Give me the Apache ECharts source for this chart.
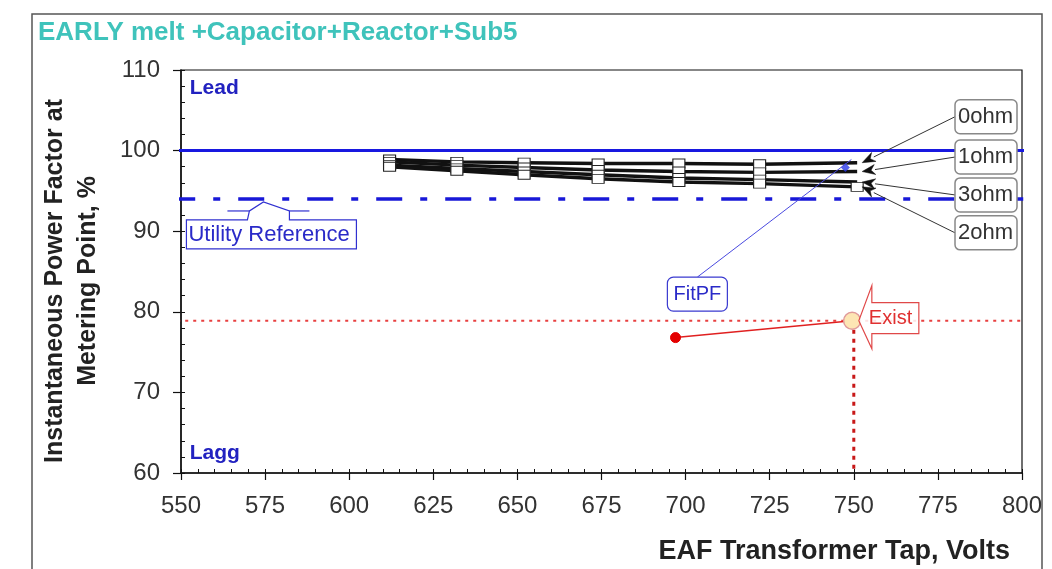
<!DOCTYPE html>
<html><head><meta charset="utf-8">
<script src="https://cdn.jsdelivr.net/npm/echarts@6/dist/echarts.min.js"></script>
<style>html,body{margin:0;padding:0;background:#fff}#c{width:1052px;height:569px}</style>
</head><body><div id="c"></div>
<script>
// ---- data ----
const seriesNames = ['0ohm', '1ohm', '3ohm', '2ohm'];
const xVolts = [612, 632, 652, 674, 698, 722, 751];
const pf0ohm = [98.9, 98.6, 98.5, 98.4, 98.4, 98.3, 98.5];
const pf1ohm = [98.6, 98.2, 97.9, 97.6, 97.4, 97.3, 97.4];
const pf3ohm = [98.2, 97.8, 97.4, 97.0, 96.6, 96.4, 96.1];
const pf2ohm = [98.0, 97.5, 97.0, 96.5, 96.1, 95.9, 95.5];
const xTickLabels = [550, 575, 600, 625, 650, 675, 700, 725, 750, 775, 800];
const yTickLabels = [60, 70, 80, 90, 100, 110];
const leadPF = 100;
const utilityPF = 94;
const existPF = 78.9;
const existTap = 750;
const refSpan = [546.5, 804.5];
const fitPoint = [747.5, 97.9];
const measuredPoint = [697, 76.8];
const existPoint = [749.5, 78.9];

const FONT = "'Liberation Sans', Arial, sans-serif";
const chart = echarts.init(document.getElementById('c'), null, {renderer: 'canvas'});

const ohmData = [pf0ohm, pf1ohm, pf3ohm, pf2ohm];
const ohmSeries = seriesNames.map((n, k) => ({
  name: n, type: 'line', xAxisIndex: 0, yAxisIndex: 0, z: 5,
  data: xVolts.map((x, i) => {
    const last = i === xVolts.length - 1;
    const item = {value: [x, ohmData[k][i]]};
    if (last && n !== '2ohm') item.symbol = 'none';
    return item;
  }),
  symbol: 'rect', symbolSize: [12, 9],
  itemStyle: {color: '#fff', borderColor: '#222', borderWidth: 1},
  lineStyle: {color: '#111', width: 3.4},
  showSymbol: true
}));

const xMin = xTickLabels[0], xMax = xTickLabels[xTickLabels.length - 1];
const yMin = yTickLabels[0], yMax = yTickLabels[yTickLabels.length - 1];

chart.setOption({
  animation: false,
  backgroundColor: '#fff',
  grid: {left: 181, right: 30, top: 70, bottom: 96, show: true, borderColor: '#111', borderWidth: 1.2, backgroundColor: 'transparent'},
  xAxis: [{
    type: 'value', min: xMin, max: xMax, interval: 25, position: 'bottom',
    axisLine: {show: true, lineStyle: {color: '#111', width: 1.5}},
    axisTick: {show: true, inside: false, length: 7, lineStyle: {color: '#111', width: 1.2}},
    minorTick: {show: false},
    axisLabel: {show: true, fontSize: 24, color: '#333', fontFamily: FONT, margin: 21,
      formatter: v => xTickLabels.includes(v) ? String(v) : ''},
    splitLine: {show: false}
  }, {
    type: 'value', min: xMin, max: xMax, interval: 25, position: 'top', offset: -403,
    axisLine: {show: false},
    axisTick: {show: true, inside: false, length: 4, lineStyle: {color: '#111', width: 1}},
    minorTick: {show: true, splitNumber: 5, length: 4, lineStyle: {color: '#111', width: 1}},
    axisLabel: {show: false}, splitLine: {show: false}
  }],
  yAxis: [{
    type: 'value', min: yMin, max: yMax, interval: 10, position: 'left',
    axisLine: {show: true, lineStyle: {color: '#111', width: 1.5}},
    axisTick: {show: true, inside: false, length: 8, lineStyle: {color: '#111', width: 1.2}},
    axisLabel: {show: true, fontSize: 24, color: '#333', fontFamily: FONT, margin: 21,
      formatter: v => yTickLabels.includes(v) ? String(v) : ''},
    splitLine: {show: false}
  }, {
    type: 'value', min: yMin, max: yMax, interval: 10, position: 'right', offset: -841,
    axisLine: {show: false},
    axisTick: {show: true, inside: false, length: 4, lineStyle: {color: '#111', width: 1}},
    minorTick: {show: true, splitNumber: 5, length: 4, lineStyle: {color: '#111', width: 1}},
    axisLabel: {show: false}, splitLine: {show: false}
  }],
  series: [
    {name: 'Lead', type: 'line', clip: false, symbol: 'none', z: 3,
      data: refSpan.map(x => [x, leadPF]), lineStyle: {color: '#1818e0', width: 3}},
    {name: 'Utility Reference', type: 'line', clip: false, symbol: 'none', z: 3,
      data: refSpan.map(x => [x, utilityPF]), lineStyle: {color: '#1818d8', width: 3.5, type: [26, 18, 7, 18]}},
    {name: 'ExistH', type: 'line', clip: false, symbol: 'none', z: 3,
      data: refSpan.map(x => [x, existPF]), lineStyle: {color: '#e84040', width: 2, type: [3, 5]}},
    {name: 'ExistV', type: 'line', clip: false, symbol: 'none', z: 3,
      data: [[existTap, existPF], [existTap, yMin]], lineStyle: {color: '#c81818', width: 3, type: [4, 5]}},
    ...ohmSeries,
    {name: 'FitPF', type: 'scatter', z: 6, data: [fitPoint], symbol: 'diamond', symbolSize: 9,
      itemStyle: {color: '#2a3ae8'}},
    {name: 'Exist', type: 'line', z: 7, symbol: 'circle',
      data: [
        {value: measuredPoint, symbolSize: 10, itemStyle: {color: '#e40000', borderColor: '#e40000'}},
        {value: existPoint, symbolSize: 17, itemStyle: {color: '#fde6b4', borderColor: '#e09a9a', borderWidth: 1.5}}
      ],
      lineStyle: {color: '#e02020', width: 1.5}}
  ]
});

const P = (x, y) => chart.convertToPixel({xAxisIndex: 0, yAxisIndex: 0}, [x, y]);
const G = [];

// outer frame
G.push({type: 'rect', shape: {x: 32, y: 14, width: 1010, height: 580}, style: {fill: 'none', stroke: '#555', lineWidth: 1.5}, z: 1});
// title
G.push({type: 'text', x: 38, y: 33, style: {text: 'EARLY melt +Capacitor+Reactor+Sub5', fill: '#3fc3bb', font: 'bold 26px ' + FONT, verticalAlign: 'middle', align: 'left'}});
// axis names
G.push({type: 'text', x: 72, y: 281, rotation: Math.PI / 2,
  style: {text: 'Instantaneous Power Factor at\nMetering Point, %', fill: '#222', font: 'bold 25px ' + FONT, align: 'center', verticalAlign: 'middle', lineHeight: 33}});
G.push({type: 'text', x: 1010, y: 552, style: {text: 'EAF Transformer Tap, Volts', fill: '#222', font: 'bold 27px ' + FONT, align: 'right', verticalAlign: 'middle'}});

// Lead / Lagg
const lead = P(552.6, 107.8), lagg = P(552.6, 62.4);
G.push({type: 'text', x: lead[0], y: lead[1], style: {text: 'Lead', fill: '#2222c0', font: 'bold 21px ' + FONT, verticalAlign: 'middle'}});
G.push({type: 'text', x: lagg[0], y: lagg[1], style: {text: 'Lagg', fill: '#2222c0', font: 'bold 21px ' + FONT, verticalAlign: 'middle'}});

// Utility Reference callout
const ut = P(574.5, utilityPF);
const rel = (pts) => pts.map(p => [ut[0] + p[0], ut[1] + p[1]]);
G.push({type: 'polygon', z: 20, shape: {points: rel([[-77, 21], [-16, 21], [-14, 12], [0, 3], [26, 12], [26, 21], [93, 21], [93, 50], [-77, 50]])},
  style: {fill: '#fff', stroke: '#3030d0', lineWidth: 1.2}});
G.push({type: 'polyline', z: 20, shape: {points: rel([[-36, 12], [-14, 12]])}, style: {stroke: '#3030d0', lineWidth: 1.2}});
G.push({type: 'polyline', z: 20, shape: {points: rel([[26, 12], [46, 12]])}, style: {stroke: '#3030d0', lineWidth: 1.2}});
G.push({type: 'text', z: 21, x: ut[0] - 75, y: ut[1] + 36, style: {text: 'Utility Reference', fill: '#2a2ac8', font: '22px ' + FONT, verticalAlign: 'middle'}});

// FitPF callout
const fb = P(703.5, 82.2), fp = P(fitPoint[0], fitPoint[1]);
G.push({type: 'line', z: 8, shape: {x1: fb[0], y1: fb[1] - 17, x2: fp[0] + 6, y2: fp[1] - 8}, style: {stroke: '#4a4ae0', lineWidth: 1}});
G.push({type: 'rect', z: 20, shape: {x: fb[0] - 30, y: fb[1] - 17, width: 60, height: 34, r: 6}, style: {fill: '#fff', stroke: '#3a3ad0', lineWidth: 1.2}});
G.push({type: 'text', z: 21, x: fb[0], y: fb[1], style: {text: 'FitPF', fill: '#2a2ac8', font: '20px ' + FONT, align: 'center', verticalAlign: 'middle'}});

// Exist callout arrow
const et = P(751.5, existPF);
const erel = (pts) => pts.map(p => [et[0] + p[0], et[1] + p[1]]);
G.push({type: 'polygon', z: 20, shape: {points: erel([[0, 0], [13, -35], [13, -18], [60, -18], [60, 13], [13, 13], [13, 28]])},
  style: {fill: 'rgba(255,255,255,0.85)', stroke: '#e04848', lineWidth: 1.2}});
G.push({type: 'text', z: 21, x: et[0] + 10, y: et[1] - 2, style: {text: 'Exist', fill: '#e03030', font: '20px ' + FONT, verticalAlign: 'middle'}});

// ohm labels with arrows
const ohmBoxes = [[789.3, 104.2], [789.3, 99.2], [789.3, 94.5], [789.3, 89.8]];
seriesNames.forEach((n, k) => {
  const c = P(ohmBoxes[k][0], ohmBoxes[k][1]);
  const endV = ohmData[k][ohmData[k].length - 1];
  const e = P(xVolts[xVolts.length - 1], endV);
  const tx = e[0] + 5, ty = e[1];
  const sx = c[0] - 31, sy = c[1];
  const a = Math.atan2(ty - sy, tx - sx), L = 13, W = 5;
  const bx = tx - L * Math.cos(a), by = ty - L * Math.sin(a);
  G.push({type: 'line', z: 9, shape: {x1: sx, y1: sy, x2: bx, y2: by}, style: {stroke: '#333', lineWidth: 1}});
  G.push({type: 'polygon', z: 9, shape: {points: [[tx, ty], [bx + W * Math.sin(a), by - W * Math.cos(a)], [bx + 4 * Math.cos(a), by + 4 * Math.sin(a)], [bx - W * Math.sin(a), by + W * Math.cos(a)]]},
    style: {fill: '#111', stroke: '#111', lineWidth: 0.5}});
  G.push({type: 'rect', z: 20, shape: {x: c[0] - 31, y: c[1] - 17, width: 62, height: 34, r: 5}, style: {fill: '#fff', stroke: '#888', lineWidth: 1.5}});
  G.push({type: 'text', z: 21, x: c[0] - 28, y: c[1], style: {text: n, fill: '#333', font: '22px ' + FONT, verticalAlign: 'middle'}});
});

chart.setOption({graphic: G});
</script></body></html>
